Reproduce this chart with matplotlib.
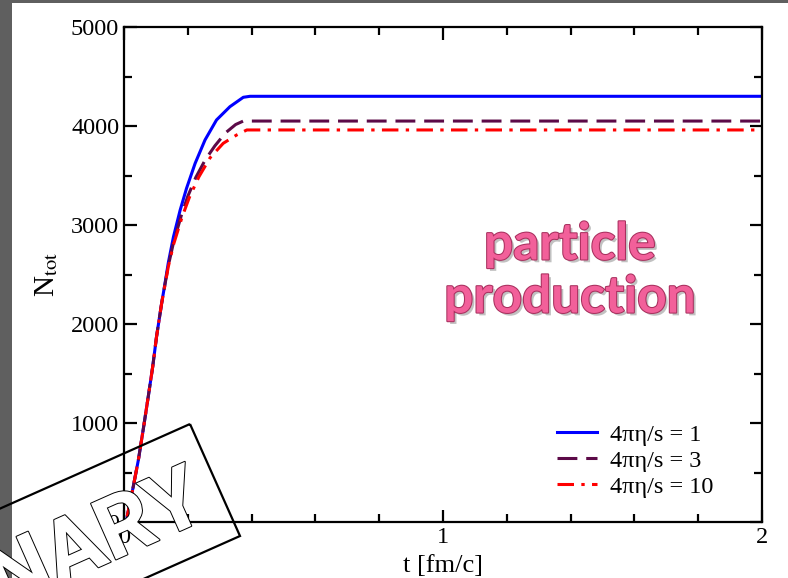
import matplotlib
matplotlib.use("Agg")
import matplotlib.pyplot as plt
import matplotlib.patheffects as pe
from matplotlib.patches import Rectangle, Polygon
from matplotlib.ticker import MultipleLocator
import numpy as np

# values
t_blue = [0.010, 0.029, 0.045, 0.060, 0.076, 0.090, 0.102, 0.118, 0.129, 0.139,
          0.155, 0.176, 0.196, 0.223, 0.254, 0.290, 0.332, 0.374, 0.395, 2.0]
n_blue = [54, 357, 626, 929, 1266, 1569, 1872, 2209, 2420, 2620,
          2880, 3150, 3370, 3623, 3859, 4061, 4195, 4290, 4300, 4300]

t_maroon = [0.010, 0.029, 0.045, 0.060, 0.076, 0.090, 0.102, 0.118, 0.129, 0.139,
            0.155, 0.180, 0.200, 0.225, 0.255, 0.285, 0.318, 0.350, 0.374, 2.0]
n_maroon = [54, 357, 626, 929, 1266, 1569, 1872, 2209, 2410, 2590,
            2820, 3100, 3290, 3480, 3660, 3800, 3930, 4015, 4050, 4050]

t_red = [0.010, 0.029, 0.045, 0.060, 0.076, 0.090, 0.102, 0.118, 0.129, 0.139,
         0.155, 0.182, 0.205, 0.235, 0.270, 0.311, 0.353, 0.385, 2.0]
n_red = [54, 357, 626, 929, 1266, 1569, 1872, 2209, 2405, 2580,
         2800, 3080, 3280, 3488, 3680, 3825, 3909, 3960, 3960]

labels = ["4\u03c0\u03b7/s = 1", "4\u03c0\u03b7/s = 3", "4\u03c0\u03b7/s = 10"]

plt.rcParams['font.family'] = ['Liberation Serif', 'DejaVu Serif']
plt.rcParams['mathtext.fontset'] = 'stix'

fig = plt.figure(figsize=(7.88, 5.78), dpi=100, facecolor='#5f5f5f')
# white slide area
fig.add_artist(Rectangle((12 / 100, 0), 7.88, (578 - 3) / 100, facecolor='white',
                         edgecolor='none', transform=fig.dpi_scale_trans, zorder=-10))

ax = fig.add_axes([124 / 788, 56 / 578, 638 / 788, 495 / 578])
ax.plot(t_blue, n_blue, color='#0000ff', lw=2.2, label=labels[0])
ax.plot(t_maroon, n_maroon, color='#5c0a48', lw=2.2, dashes=(6.5, 2.9), label=labels[1])
ax.plot(t_red, n_red, color='#ff0000', lw=2.2, dashes=(5.4, 2.4, 1.1, 2.4), label=labels[2])

ax.set_xlim(0, 2)
ax.set_ylim(0, 5000)
ax.xaxis.set_major_locator(MultipleLocator(1))
ax.xaxis.set_minor_locator(MultipleLocator(0.2))
ax.yaxis.set_major_locator(MultipleLocator(1000))
ax.yaxis.set_minor_locator(MultipleLocator(500))
ax.tick_params(which='both', direction='in', top=True, right=True, width=1.6, labelsize=17.5)
ax.tick_params(which='major', length=9)
ax.tick_params(which='minor', length=6)
for s in ax.spines.values():
    s.set_linewidth(1.6)

ax.set_xlabel("t [fm/c]", fontsize=19, labelpad=5)
ax.set_ylabel(r"N$_{\rm tot}$", fontsize=21, labelpad=8)

ax.legend(loc='upper left', bbox_to_anchor=(0.679, 0.198), frameon=False, fontsize=17.5,
          handlelength=1.65, handletextpad=0.53, labelspacing=0.16, borderpad=0, borderaxespad=0)

# "particle production" note
ax.text(0.699, 0.506, "particle\nproduction", transform=ax.transAxes, ha='center', va='center',
        family='Lato', weight='bold', fontsize=37, color='#f2609a', linespacing=1.16,
        path_effects=[pe.SimplePatchShadow(offset=(2, -2), shadow_rgbFace='#999999', alpha=0.6),
                      pe.Stroke(linewidth=1.5, foreground='#a8305e'), pe.Normal()])

# PRELIMINARY stamp
ang = 24
u = np.array([np.cos(np.radians(ang)), np.sin(np.radians(ang))])
nup = np.array([-u[1], u[0]])
tr = np.array([190, 578 - 424]) / 100
br = np.array([240, 578 - 536]) / 100
L = 8.0
box = Polygon([tr, br, br - L * u, tr - L * u], closed=True, facecolor='none',
              edgecolor='black', lw=1.6, transform=fig.dpi_scale_trans, zorder=20)
fig.add_artist(box)
anchor = br - 0.20 * u + 0.29 * nup
fig.text(anchor[0], anchor[1], "PRELIMINARY", transform=fig.dpi_scale_trans, rotation=ang,
         rotation_mode='anchor', ha='right', va='baseline',
         family=['Liberation Sans Narrow', 'Roboto'], weight='bold',
         fontsize=62, color='white', zorder=21,
         path_effects=[pe.Stroke(linewidth=1.4, foreground='black'), pe.Normal()])

fig.savefig("out.png", dpi=100, facecolor=fig.get_facecolor())
